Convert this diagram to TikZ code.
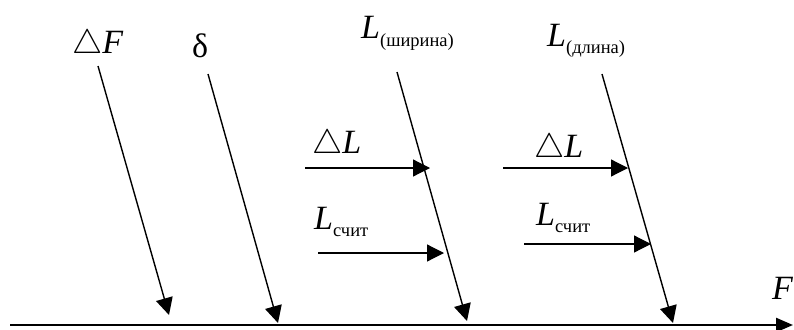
\documentclass[tikz,border=0pt]{standalone}
\usepackage{graphicx}
\usepackage{fontspec}
\setmainfont{Liberation Serif}
\usetikzlibrary{arrows.meta}
\newcommand{\bigsz}{\fontsize{34}{40}\selectfont}
\newcommand{\subsz}[1]{\raisebox{-7pt}{\fontsize{18.5}{20}\selectfont #1}}
\newcommand{\tri}{\scalebox{3.4}{\fontsize{10}{12}\selectfont$\triangle$}}
\begin{document}
\begin{tikzpicture}[x=1pt,y=-1pt,
  lbl/.style={inner sep=0pt, anchor=base west, font=\bigsz},
  slant/.style={line width=1.4pt, -{Triangle[length=17pt,width=17pt]}},
  harrow/.style={line width=1.2pt, -{Triangle[length=17pt,width=17pt]}},
  axisarrow/.style={line width=2.4pt, -{Triangle[length=17pt,width=14pt]}}]
\useasboundingbox (0,0) rectangle (794,329);

% labels
\node[lbl] (lDF) at (72,53) {\tri\textit{F}};
\node[lbl] (ld) at (192,57) {δ};
\node[lbl] (lLw) at (361,39) {\textit{L}\subsz{(ширина)}};
\node[lbl] (lLl) at (547,47) {\textit{L}\subsz{(длина)}};
\node[lbl] (lDLa) at (312,153) {\tri\textit{L}};
\node[lbl] (lLsa) at (314,229) {\textit{L}\subsz{счит}};
\node[lbl] (lDLb) at (534,157) {\tri\textit{L}};
\node[lbl] (lLsb) at (536,225) {\textit{L}\subsz{счит}};
\node[lbl] (lF) at (772,299) {\textit{F}};

% endpoints
\coordinate (s1) at (98,66);   \coordinate (e1) at (169,315);
\coordinate (s2) at (208,74);  \coordinate (e2) at (278,323);
\coordinate (s3) at (397,72);  \coordinate (e3) at (467,321);
\coordinate (s4) at (602,74);  \coordinate (e4) at (673,323);
\coordinate (ha1) at (305,168); \coordinate (ha2) at (430,168);
\coordinate (hb1) at (318,253); \coordinate (hb2) at (444,253);
\coordinate (hc1) at (503,168); \coordinate (hc2) at (628,168);
\coordinate (hd1) at (524,244); \coordinate (hd2) at (651,244);
\coordinate (ax1) at (10,325);  \coordinate (ax2) at (793,325);

\draw[slant] (s1) -- (e1);
\draw[slant] (s2) -- (e2);
\draw[slant] (s3) -- (e3);
\draw[slant] (s4) -- (e4);
\draw[harrow] (ha1) -- (ha2);
\draw[harrow] (hb1) -- (hb2);
\draw[harrow] (hc1) -- (hc2);
\draw[harrow] (hd1) -- (hd2);
\draw[axisarrow] (ax1) -- (ax2);
\end{tikzpicture}
\end{document}
